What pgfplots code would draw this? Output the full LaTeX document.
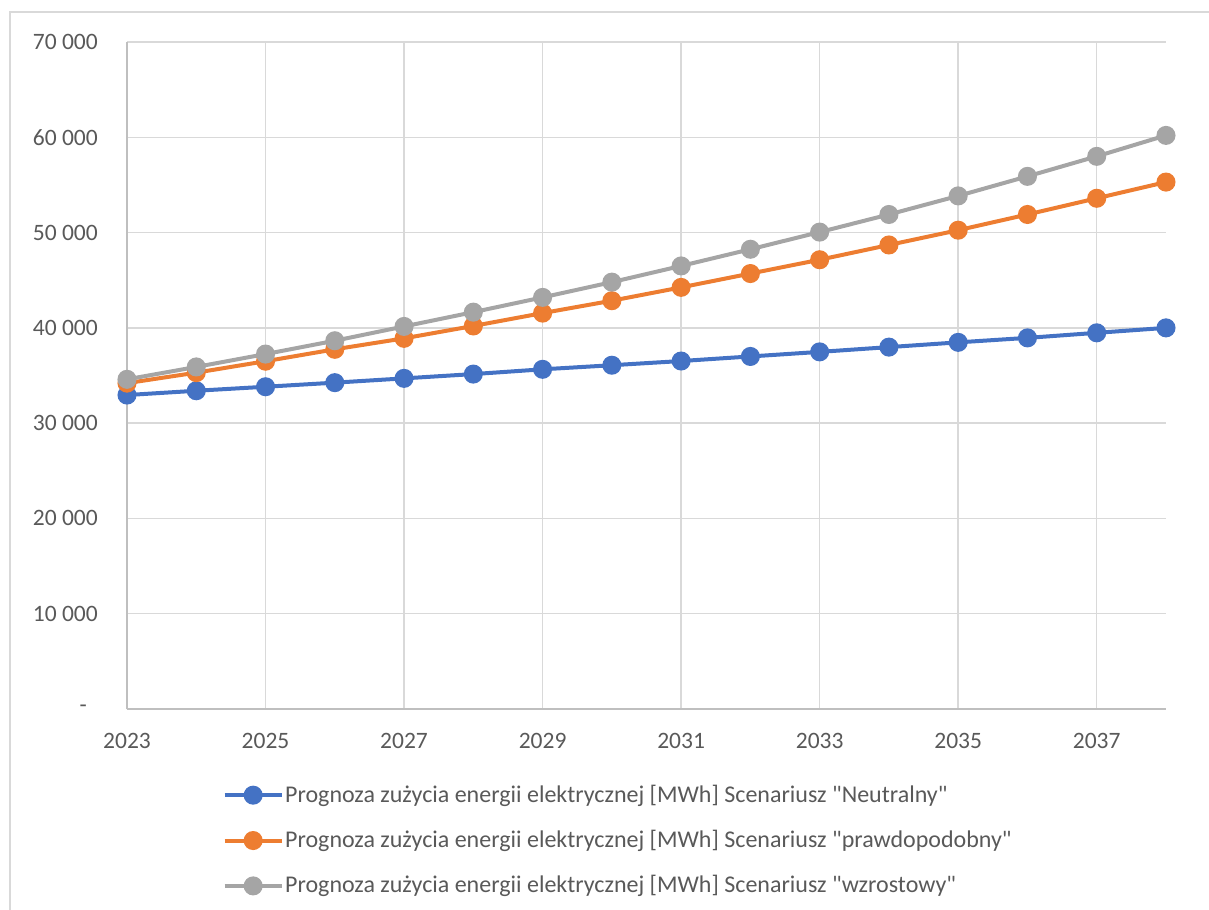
\documentclass[border=0pt]{standalone}
\usepackage{fontspec}
\setmainfont{Carlito}[Ligatures=TeXOff]
\usepackage{pgfplots}
\pgfplotsset{compat=1.18}
\definecolor{cblue}{HTML}{4472C4}
\definecolor{corange}{HTML}{ED7D31}
\definecolor{cgray}{HTML}{A5A5A5}
\definecolor{ctext}{HTML}{595959}
\definecolor{cgrid}{HTML}{D9D9D9}
\definecolor{caxis}{HTML}{BFBFBF}
\newcommand{\zerolabel}{\raisebox{-2bp}{-}\rule{11bp}{0pt}}
\begin{document}
\begin{tikzpicture}
\fontsize{23.5bp}{28bp}\selectfont
\useasboundingbox (0bp,0bp) rectangle (1209bp,-910bp);
\draw[cgrid, line width=1.5bp] (10bp,-12bp) rectangle (1240bp,-940bp);
\begin{axis}[
  at={(127bp,-709bp)}, anchor=south west,
  scale only axis, width=1039bp, height=667bp,
  xmin=2023, xmax=2038, ymin=0, ymax=70000,
  axis x line=bottom, axis y line=left,
  axis line style={draw=caxis, line width=1.5bp, -},
  xtick={2023,2025,...,2037},
  xticklabels={2023,2025,2027,2029,2031,2033,2035,2037},
  ytick={0,10000,...,70000},
  scaled y ticks=false,
  yticklabels={\zerolabel,10 000,20 000,30 000,40 000,50 000,60 000,70 000},
  major tick length=0pt,
  xmajorgrids, ymajorgrids,
  grid style={draw=cgrid, line width=1.5bp},
  tick label style={font=\fontsize{23.5bp}{28bp}\selectfont, text=ctext, inner sep=0pt},
  yticklabel style={anchor=east, xshift=-29bp},
  xticklabel style={anchor=north, yshift=-24bp},
  clip=false,
  every axis plot/.append style={line width=4bp, mark=*, mark size=7.5bp},
  legend cell align=left,
  legend style={draw=none, fill=none, at={(0.089,-0.108)}, anchor=north west,
    font=\fontsize{24bp}{28bp}\selectfont, text=ctext, row sep=21.5bp,
    nodes={inner sep=1.5bp}},
  legend image code/.code={\draw[mark repeat=2,mark phase=2,#1] plot coordinates {(0bp,0bp) (28.5bp,0bp) (57bp,0bp)};},
]
\addplot[cblue, mark options={fill=cblue, draw=cblue}] coordinates {
(2023,32950) (2024,33400) (2025,33820) (2026,34250) (2027,34700) (2028,35150) (2029,35650) (2030,36080)
(2031,36520) (2032,37000) (2033,37480) (2034,37980) (2035,38480) (2036,38950) (2037,39480) (2038,40000)};
\addplot[corange, mark options={fill=corange, draw=corange}] coordinates {
(2023,34200) (2024,35300) (2025,36500) (2026,37750) (2027,38900) (2028,40200) (2029,41550) (2030,42850)
(2031,44250) (2032,45700) (2033,47150) (2034,48700) (2035,50250) (2036,51900) (2037,53600) (2038,55300)};
\addplot[cgray, mark options={fill=cgray, draw=cgray}] coordinates {
(2023,34600) (2024,35900) (2025,37250) (2026,38650) (2027,40150) (2028,41650) (2029,43200) (2030,44800)
(2031,46500) (2032,48250) (2033,50050) (2034,51900) (2035,53850) (2036,55900) (2037,58000) (2038,60200)};
\legend{Prognoza zużycia energii elektrycznej [MWh] Scenariusz "Neutralny",
Prognoza zużycia energii elektrycznej [MWh] Scenariusz "prawdopodobny",
Prognoza zużycia energii elektrycznej [MWh] Scenariusz "wzrostowy"}
\end{axis}
\end{tikzpicture}
\end{document}
